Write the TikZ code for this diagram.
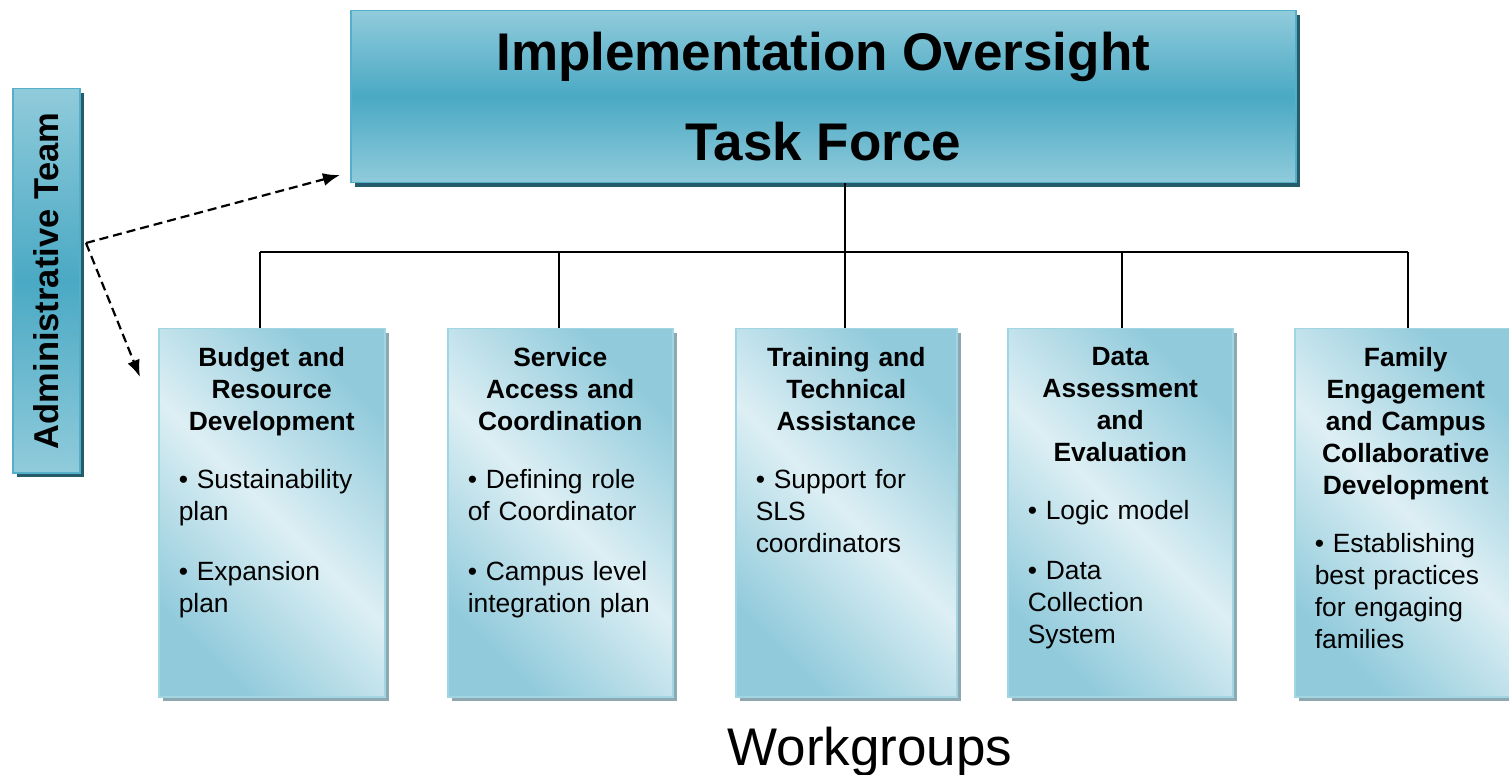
\documentclass[tikz,border=0pt]{standalone}
\usepackage{fontspec}
\setmainfont{Liberation Sans}
\usetikzlibrary{arrows.meta,shadows,positioning}
\definecolor{tfLight}{HTML}{90CBDB}
\definecolor{tfDark}{HTML}{4AA9C4}
\definecolor{tfBorder}{HTML}{55AFC8}
\definecolor{tfShadow}{HTML}{245C6B}
\definecolor{wgDark}{HTML}{90CADB}
\definecolor{wgLight}{HTML}{DDEFF4}
\definecolor{wgBorder}{HTML}{A2D5E2}
\definecolor{wgShadow}{HTML}{8EA8B2}
\begin{document}
\begin{tikzpicture}
    [
    x=1pt,y=-1pt,
    tfbox/.style={draw=tfBorder,line width=1.5pt,top color=tfLight,bottom color=tfLight,middle color=tfDark,
      drop shadow={shadow xshift=4pt,shadow yshift=-4pt,fill=tfShadow,opacity=1},inner sep=0pt,anchor=north west},
    wgbox/.style={draw=wgBorder,line width=1.5pt,top color=wgDark,bottom color=wgDark,middle color=wgLight,shading angle=-45,
      drop shadow={shadow xshift=4pt,shadow yshift=-4pt,fill=wgShadow,opacity=1},inner sep=0pt,anchor=north west,
      minimum height=368pt},
    wgtext/.style={below=19pt,anchor=north,inner sep=0pt,align=left,font=\fontsize{26.4}{32}\selectfont},
    link/.style={line width=1.6pt},
    dasharrow/.style={line width=2.2pt,dash pattern=on 9pt off 5pt,-{Latex[length=17pt,width=13pt]}},
    ]
    \useasboundingbox (0,0) rectangle (1509,775);
    \clip (0,0) rectangle (1509,775);
    \node[tfbox,minimum width=945pt,minimum height=172pt,align=center,
      font=\bfseries\fontsize{53}{90}\selectfont] (tf) at (350,10) {Implementation Oversight\\Task Force};
    \node[tfbox,minimum width=67pt,minimum height=384pt] (adm) at (12,88) {};
    \node[rotate=90,font=\bfseries\fontsize{34.5}{40}\selectfont] (admtext) at (adm.center) {Administrative Team};

    \node[wgbox,minimum width=226pt] (wg1) at (158,328) {};
    \node[wgbox,minimum width=225pt] (wg2) at (447,328) {};
    \node[wgbox,minimum width=221pt] (wg3) at (735,328) {};
    \node[wgbox,minimum width=225pt] (wg4) at (1007,328) {};
    \node[wgbox,minimum width=222pt] (wg5) at (1294,328) {};

    \node[wgtext,text width=186pt] (wg1text) at (wg1.north)
      {{\centering\bfseries Budget and\\Resource\\Development\par}\vspace{26pt}%
      • Sustainability\\plan\par\vspace{28pt}• Expansion\\plan};
    \node[wgtext,text width=185pt] (wg2text) at (wg2.north)
      {{\centering\bfseries Service\\Access and\\Coordination\par}\vspace{26pt}%
      • Defining role\\of Coordinator\par\vspace{28pt}• Campus level\\integration plan};
    \node[wgtext,text width=181pt] (wg3text) at (wg3.north)
      {{\centering\bfseries Training and\\Technical\\Assistance\par}\vspace{26pt}%
      • Support for\\SLS\\coordinators};
    \node[wgtext,text width=185pt] (wg4text) at (wg4.north)
      {{\centering\bfseries Data\\Assessment\\and\\Evaluation\par}\vspace{26pt}%
      • Logic model\par\vspace{28pt}• Data\\Collection\\System};
    \node[wgtext,text width=182pt] (wg5text) at (wg5.north)
      {{\centering\bfseries Family\\Engagement\\and Campus\\Collaborative\\Development\par}\vspace{26pt}%
      • Establishing\\best practices\\for engaging\\families};

    \node[anchor=base,inner sep=0pt,font=\fontsize{53}{60}\selectfont] (wglabel) at (870,765) {Workgroups};

    \coordinate (bus1) at (260,252);
    \coordinate (bus2) at (559,252);
    \coordinate (bus3) at (845,252);
    \coordinate (bus4) at (1122,252);
    \coordinate (bus5) at (1408,252);
    \draw[link] (bus3 |- tf.south) -- (bus3);
    \draw[link] (bus1) -- (bus5);
    \foreach \i in {1,...,5}
      \draw[link] (bus\i) -- (bus\i |- wg\i.north);

    \coordinate (fork) at (86,243);
    \coordinate (tfin) at (340,175);
    \coordinate (wgin) at (140,377);
    \draw[dasharrow] (fork) -- (tfin);
    \draw[dasharrow] (fork) -- (wgin);
  \end{tikzpicture}
\end{document}
